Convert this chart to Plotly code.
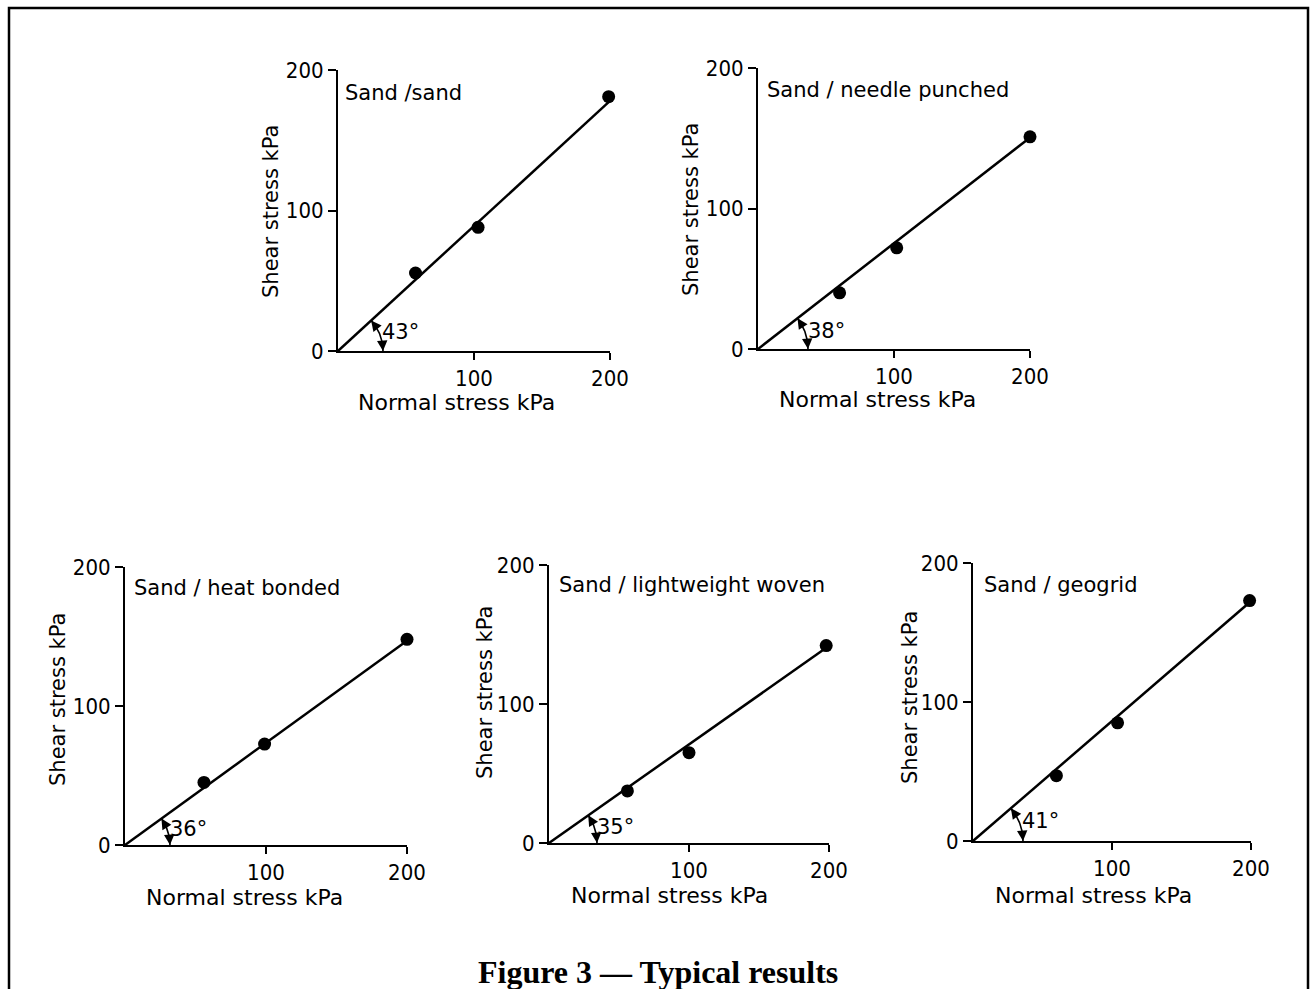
import numpy as np
import plotly.graph_objects as go

# ---------------- data ----------------
panel_titles = ["Sand /sand", "Sand / needle punched", "Sand / heat bonded",
                "Sand / lightweight woven", "Sand / geogrid"]
friction_angles = [43, 38, 36, 35, 41]
normal_stress = [[57, 103, 199], [60, 102, 200], [56, 99, 200], [56, 100, 198], [60, 104, 199]]
shear_stress = [[55.5, 88, 181], [40, 72, 151], [45, 72.6, 148], [37.5, 65, 142], [47, 85, 173]]
fit_end_x = [200, 198, 200, 196, 197]
fit_end_y = [178, 149, 147, 139, 170]
x_ticks = [100, 200]
y_ticks = [0, 100, 200]
x_title = "Normal stress kPa"
y_title = "Shear stress kPa"
caption = "Figure 3 \u2014 Typical results"

# ---------------- layout (pixel positions) ----------------
W, H = 1314, 989
# (x at 0, x at 200, y at 0, y at 200) in pixels
boxes = [(338, 610, 351, 70), (758, 1030, 349, 68), (125, 407, 845, 567),
         (549, 829, 843, 565), (973, 1251, 841, 563)]
title_pos = [(343, 93), (765, 90), (132, 588), (557, 585), (982, 585)]
xtitle_pos = [(456, 402), (877, 400), (244, 897), (669, 895), (1093, 895)]
ytitle_pos = [(271, 212), (691, 210), (58, 700), (485, 693), (910, 698)]
arc_r_px = [45, 50, 45, 48, 50]

FONT = "DejaVu Sans, sans-serif"
TICKFONT = "DejaVu Sans Condensed, DejaVu Sans, sans-serif"

fig = go.Figure()
layout = dict(template="none", width=W, height=H,
              margin=dict(l=0, r=0, t=0, b=0, pad=0, autoexpand=False),
              paper_bgcolor="white", plot_bgcolor="white", showlegend=False)
annotations = []
shapes = []

def px(x):
    return x / W

def py(y):
    return 1 - y / H

for i in range(5):
    n = "" if i == 0 else str(i + 1)
    xa, ya = "x" + n, "y" + n
    x0, x2, y0, y2 = boxes[i]
    sx = (x2 - x0) / 200.0
    sy = (y0 - y2) / 200.0
    common = dict(showgrid=False, zeroline=False, showline=True, linecolor="black",
                  linewidth=2, ticks="outside", tickwidth=2, tickcolor="black",
                  automargin=False,
                  tickfont=dict(family=TICKFONT, size=22, color="black"), fixedrange=True)
    layout["xaxis" + n] = dict(domain=[px(x0), px(x2)], range=[0, 200], anchor=ya,
                               ticklen=7, tickvals=x_ticks,
                               ticktext=[str(v) for v in x_ticks], **common)
    layout["yaxis" + n] = dict(domain=[py(y0), py(y2)], range=[0, 200], anchor=xa,
                               ticklen=8, tickvals=y_ticks,
                               ticktext=[str(v) for v in y_ticks], **common)
    # fit line
    fig.add_trace(go.Scatter(x=[0, fit_end_x[i]], y=[0, fit_end_y[i]], mode="lines",
                             line=dict(color="black", width=2.5), xaxis=xa, yaxis=ya,
                             hoverinfo="skip", cliponaxis=False))
    # data points
    fig.add_trace(go.Scatter(x=normal_stress[i], y=shear_stress[i], mode="markers",
                             marker=dict(color="black", size=13), xaxis=xa, yaxis=ya,
                             cliponaxis=False))
    # angle arc (circular in pixel space)
    th = np.arctan2(fit_end_y[i] * sy, fit_end_x[i] * sx)
    t = np.linspace(0, th, 40)
    r = arc_r_px[i]
    fig.add_trace(go.Scatter(x=r * np.cos(t) / sx, y=r * np.sin(t) / sy, mode="lines",
                             line=dict(color="black", width=1.6),
                             xaxis=xa, yaxis=ya, hoverinfo="skip", cliponaxis=False))
    # arrowheads at both ends
    d = np.radians(9)
    for tip, tail in ((th, th - d), (0.0, d)):
        annotations.append(dict(x=r * np.cos(tip) / sx, y=r * np.sin(tip) / sy,
                                ax=r * np.cos(tail) / sx, ay=r * np.sin(tail) / sy,
                                xref=xa, yref=ya, axref=xa, ayref=ya, text="",
                                showarrow=True, arrowhead=2, arrowsize=1.3,
                                arrowwidth=1.6, arrowcolor="black"))
    # angle label
    tl = th * 0.56
    annotations.append(dict(x=(r + 1) * np.cos(tl) / sx, y=(r + 1) * np.sin(tl) / sy,
                            xref=xa, yref=ya, text=f"{friction_angles[i]}\u00b0",
                            showarrow=False, xanchor="left", yanchor="middle",
                            font=dict(family=FONT, size=21, color="black")))
    # panel title
    tx, ty = title_pos[i]
    annotations.append(dict(x=px(tx), y=py(ty), xref="paper", yref="paper",
                            text=panel_titles[i], showarrow=False, xanchor="left",
                            yanchor="middle", font=dict(family=FONT, size=21, color="black")))
    # axis titles
    xx, xy = xtitle_pos[i]
    annotations.append(dict(x=px(xx), y=py(xy), xref="paper", yref="paper",
                            text=x_title, showarrow=False, xanchor="center",
                            yanchor="middle", font=dict(family=FONT, size=22, color="black")))
    yx, yy = ytitle_pos[i]
    annotations.append(dict(x=px(yx), y=py(yy), xref="paper", yref="paper",
                            text=y_title, showarrow=False, xanchor="center",
                            yanchor="middle", textangle=-90,
                            font=dict(family=FONT, size=21, color="black")))

# caption
annotations.append(dict(x=px(658), y=py(972), xref="paper", yref="paper",
                        text="<b>" + caption + "</b>", showarrow=False,
                        xanchor="center", yanchor="middle",
                        font=dict(family="Liberation Serif, DejaVu Serif, serif", size=32,
                                  color="black")))

# outer frame (open at the bottom)
shapes.append(dict(type="path", xref="paper", yref="paper",
                   path=f"M {px(9)} {py(995)} L {px(9)} {py(8)} L {px(1308)} {py(8)} L {px(1308)} {py(995)}",
                   line=dict(color="black", width=2.5)))

layout["annotations"] = annotations
layout["shapes"] = shapes
fig.update_layout(**layout)

# place the figure at the page origin so it fills the window exactly
post = """
document.documentElement.style.margin='0';
document.documentElement.style.overflow='hidden';
document.body.style.margin='0';
document.body.style.overflow='hidden';
var gd=document.getElementById('{plot_id}');
gd.style.position='absolute'; gd.style.left='0px'; gd.style.top='0px';
"""
fig.write_html("out.html", post_script=post, config={"displayModeBar": False})
